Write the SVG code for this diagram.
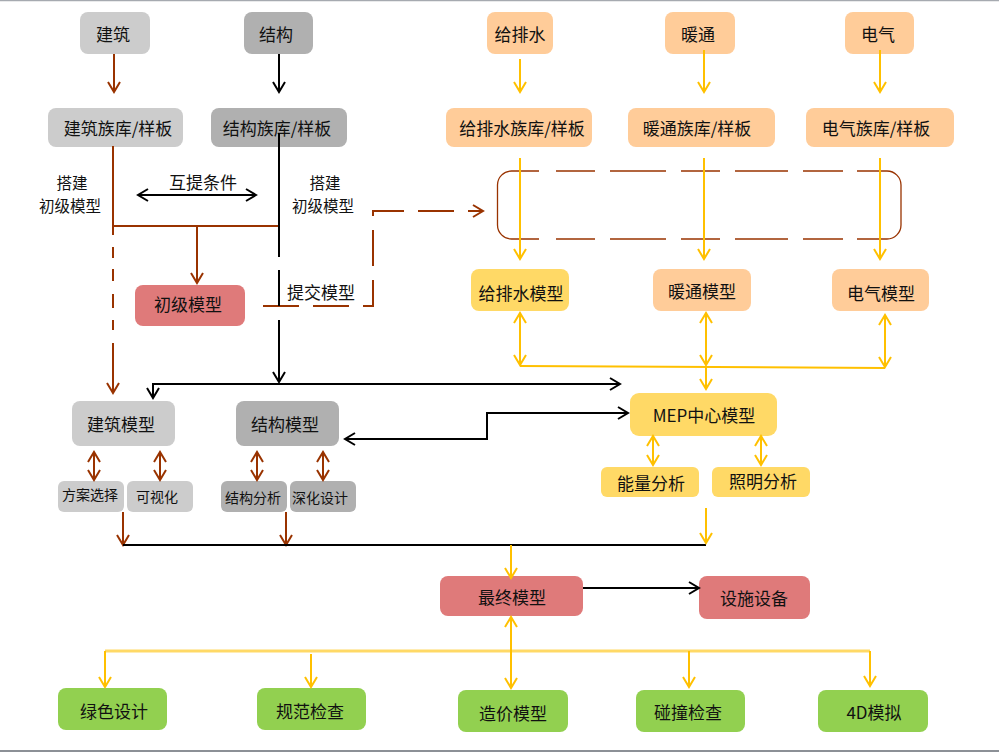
<svg xmlns="http://www.w3.org/2000/svg" width="999" height="753" viewBox="0 0 999 753">
<defs>
<style>
text{font-family:"Noto Sans CJK SC","Microsoft YaHei",sans-serif;font-size:17px;fill:#111;text-anchor:middle;dominant-baseline:central}
.sm{font-size:14px}
.lb{font-size:15.5px}
.lg{fill:#cccccc}.dg{fill:#b0b0b0}.pe{fill:#ffcc99}.ye{fill:#ffd966}.re{fill:#df7a7a}.gr{fill:#92d050}
.br{fill:none;stroke:#993300;stroke-width:2}
.bk{fill:none;stroke:#000;stroke-width:2}
.yl{fill:none;stroke:#ffc000;stroke-width:2}
.grp{fill:none;stroke:#993300;stroke-width:1.3}
</style>
<marker id="mb" viewBox="-12 -8 14 16" refX="0" refY="0" markerWidth="14" markerHeight="16" markerUnits="userSpaceOnUse" orient="auto-start-reverse"><path d="M-10,-6 L0,0 L-10,6" fill="none" stroke="#993300" stroke-width="2"/></marker>
<marker id="mk" viewBox="-12 -8 14 16" refX="0" refY="0" markerWidth="14" markerHeight="16" markerUnits="userSpaceOnUse" orient="auto-start-reverse"><path d="M-10,-6 L0,0 L-10,6" fill="none" stroke="#000" stroke-width="2"/></marker>
<marker id="my" viewBox="-12 -8 14 16" refX="0" refY="0" markerWidth="14" markerHeight="16" markerUnits="userSpaceOnUse" orient="auto-start-reverse"><path d="M-10,-6 L0,0 L-10,6" fill="none" stroke="#ffc000" stroke-width="2"/></marker>
</defs>
<rect width="999" height="753" fill="#fff"/>
<line x1="0" y1="0.5" x2="999" y2="0.5" stroke="#a6aab0" stroke-width="1.5"/>
<line x1="0" y1="751" x2="999" y2="751" stroke="#8c9096" stroke-width="2"/>

<g id="nodes">
<g id="n-jianzhu"><rect class="lg" x="80" y="12" width="70" height="42" rx="8"/><text x="113" y="33">建筑</text></g>
<g id="n-jiegou"><rect class="dg" x="244" y="12" width="69" height="42" rx="8"/><text x="276" y="33">结构</text></g>
<g id="n-jps"><rect class="pe" x="487" y="12" width="66" height="42" rx="8"/><text x="520" y="33">给排水</text></g>
<g id="n-nt"><rect class="pe" x="665" y="12" width="70" height="42" rx="8"/><text x="698" y="33">暖通</text></g>
<g id="n-dq"><rect class="pe" x="845" y="12" width="69" height="42" rx="8"/><text x="878" y="33">电气</text></g>

<g id="n-jzzk"><rect class="lg" x="48" y="108" width="135" height="39" rx="8"/><text x="118" y="127">建筑族库/样板</text></g>
<g id="n-jgzk"><rect class="dg" x="211" y="108" width="136" height="39" rx="8"/><text x="277" y="127">结构族库/样板</text></g>
<g id="n-jpszk"><rect class="pe" x="446" y="108" width="146" height="39" rx="8"/><text x="522" y="127">给排水族库/样板</text></g>
<g id="n-ntzk"><rect class="pe" x="628" y="108" width="147" height="39" rx="8"/><text x="697" y="127">暖通族库/样板</text></g>
<g id="n-dqzk"><rect class="pe" x="806" y="108" width="148" height="39" rx="8"/><text x="876" y="127">电气族库/样板</text></g>

<g id="n-group">
<path class="grp" d="M539,171 H511.5 A14,14 0 0 0 497.5,185 V225 A14,14 0 0 0 511.5,239 H539"/>
<path class="grp" d="M857,171 H887 A14,14 0 0 1 901,185 V225 A14,14 0 0 1 887,239 H857"/>
<path class="grp" d="M556,171 H595 M610,171 H666 M681,171 H720 M735,171 H788 M803,171 H843 M556,239 H595 M610,239 H666 M681,239 H720 M735,239 H788 M803,239 H843"/>
</g>

<g id="n-jpsmx"><rect class="ye" x="471" y="269" width="98" height="42" rx="8"/><text x="521" y="292">给排水模型</text></g>
<g id="n-ntmx"><rect class="pe" x="653" y="269" width="98" height="42" rx="8"/><text x="702" y="290">暖通模型</text></g>
<g id="n-dqmx"><rect class="pe" x="832" y="269" width="97" height="42" rx="8"/><text x="881" y="292">电气模型</text></g>

<g id="n-cjmx"><rect class="re" x="135" y="285" width="110" height="41" rx="8"/><text x="188" y="303">初级模型</text></g>

<g id="n-jzmx"><rect class="lg" x="72" y="401" width="103" height="45" rx="8"/><text x="121" y="423">建筑模型</text></g>
<g id="n-jgmx"><rect class="dg" x="236" y="401" width="103" height="45" rx="8"/><text x="285" y="423">结构模型</text></g>
<g id="n-faxz"><rect class="lg" x="58" y="481" width="66" height="31" rx="6"/><text class="sm" x="90" y="494">方案选择</text></g>
<g id="n-ksh"><rect class="lg" x="127" y="481" width="66" height="31" rx="6"/><text class="sm" x="157" y="496">可视化</text></g>
<g id="n-jgfx"><rect class="dg" x="221" y="481" width="66" height="31" rx="6"/><text class="sm" x="253" y="497">结构分析</text></g>
<g id="n-shsj"><rect class="dg" x="290" y="481" width="66" height="31" rx="6"/><text class="sm" x="320" y="497">深化设计</text></g>

<g id="n-mep"><rect class="ye" x="630" y="393" width="147" height="43" rx="9"/><text x="704" y="414">MEP中心模型</text></g>
<g id="n-nlfx"><rect class="ye" x="601" y="467" width="98" height="30" rx="6"/><text x="651" y="482">能量分析</text></g>
<g id="n-zmfx"><rect class="ye" x="712" y="467" width="98" height="30" rx="6"/><text x="763" y="480">照明分析</text></g>

<g id="n-zzmx"><rect class="re" x="440" y="576" width="143" height="40" rx="8"/><text x="512" y="596">最终模型</text></g>
<g id="n-sssb"><rect class="re" x="699" y="576" width="111" height="43" rx="8"/><text x="754" y="597">设施设备</text></g>

<g id="n-lssj"><rect class="gr" x="58" y="688" width="109" height="42" rx="8"/><text x="114" y="710">绿色设计</text></g>
<g id="n-gfjc"><rect class="gr" x="257" y="688" width="109" height="42" rx="8"/><text x="310" y="710">规范检查</text></g>
<g id="n-zjmx"><rect class="gr" x="458" y="690" width="110" height="42" rx="8"/><text x="513" y="712">造价模型</text></g>
<g id="n-pzjc"><rect class="gr" x="636" y="690" width="109" height="42" rx="8"/><text x="688" y="711">碰撞检查</text></g>
<g id="n-4d"><rect class="gr" x="818" y="690" width="110" height="42" rx="8"/><text x="874" y="711">4D模拟</text></g>
</g>

<g id="labels">
<text class="lb" x="72" y="182">搭建</text>
<text class="lb" x="70" y="205">初级模型</text>
<text class="lb" x="325" y="182">搭建</text>
<text class="lb" x="323" y="205">初级模型</text>
<text x="203" y="181">互提条件</text>
<text x="321" y="291">提交模型</text>
</g>

<g id="connectors">
<path class="br" d="M114,54 V92" marker-end="url(#mb)"/>
<path class="br" d="M113,146 V235 M113,247 V258 M113,269 V281 M113,294 V308 M113,320 V330"/>
<path class="br" d="M113,343 V393" marker-end="url(#mb)"/>
<path class="br" d="M113,226 H279"/>
<path class="br" d="M197,226 V283" marker-end="url(#mb)"/>
<path class="br" d="M263,306 H373 V211 H483" stroke-dasharray="36 14" marker-end="url(#mb)"/>
<path class="br" d="M94,452 V480" marker-start="url(#mb)" marker-end="url(#mb)"/>
<path class="br" d="M160,452 V480" marker-start="url(#mb)" marker-end="url(#mb)"/>
<path class="br" d="M257,452 V480" marker-start="url(#mb)" marker-end="url(#mb)"/>
<path class="br" d="M323,452 V480" marker-start="url(#mb)" marker-end="url(#mb)"/>
<path class="br" d="M123,512 V545" marker-end="url(#mb)"/>
<path class="br" d="M286,512 V545" marker-end="url(#mb)"/>

<path class="bk" d="M279,54 V92" marker-end="url(#mk)"/>
<path class="bk" d="M279,133 V257 M279,270 V306"/>
<path class="bk" d="M279,320 V382" marker-end="url(#mk)"/>
<path class="bk" d="M138,195 H256" marker-start="url(#mk)" marker-end="url(#mk)"/>
<path class="bk" d="M620,384 H153 V398" marker-start="url(#mk)" marker-end="url(#mk)"/>
<path class="bk" d="M345,439 H487 V413 H628" marker-start="url(#mk)" marker-end="url(#mk)"/>
<path class="bk" d="M123,545 H706"/>
<path class="bk" d="M583,588 H699" marker-end="url(#mk)"/>

<path class="yl" d="M520,59 V92" marker-end="url(#my)"/>
<path class="yl" d="M704,50 V92" marker-end="url(#my)"/>
<path class="yl" d="M880,50 V92" marker-end="url(#my)"/>
<path class="yl" d="M520,158 V259" marker-end="url(#my)"/>
<path class="yl" d="M704,158 V259" marker-end="url(#my)"/>
<path class="yl" d="M880,158 V259" marker-end="url(#my)"/>
<path class="yl" d="M520,313 V365" marker-start="url(#my)" marker-end="url(#my)"/>
<path class="yl" d="M706,313 V365" marker-start="url(#my)" marker-end="url(#my)"/>
<path class="yl" d="M885,315 V367" marker-start="url(#my)" marker-end="url(#my)"/>
<path class="yl" d="M520,366 L885,368"/>
<path class="yl" d="M706,366 V389" marker-end="url(#my)"/>
<path class="yl" d="M653,436 V465" marker-start="url(#my)" marker-end="url(#my)"/>
<path class="yl" d="M761,436 V465" marker-start="url(#my)" marker-end="url(#my)"/>
<path class="yl" d="M706,508 V543" marker-end="url(#my)"/>
<path class="yl" d="M511,545 V578" marker-end="url(#my)"/>
<path d="M105,651 H870" fill="none" stroke="#ffd966" stroke-width="3"/>
<path class="yl" d="M511,617 V688" marker-start="url(#my)" marker-end="url(#my)"/>
<path class="yl" d="M105,651 V687" marker-end="url(#my)"/>
<path class="yl" d="M311,654 V687" marker-end="url(#my)"/>
<path class="yl" d="M689,651 V687" marker-end="url(#my)"/>
<path class="yl" d="M870,651 V686" marker-end="url(#my)"/>
</g>
</svg>
